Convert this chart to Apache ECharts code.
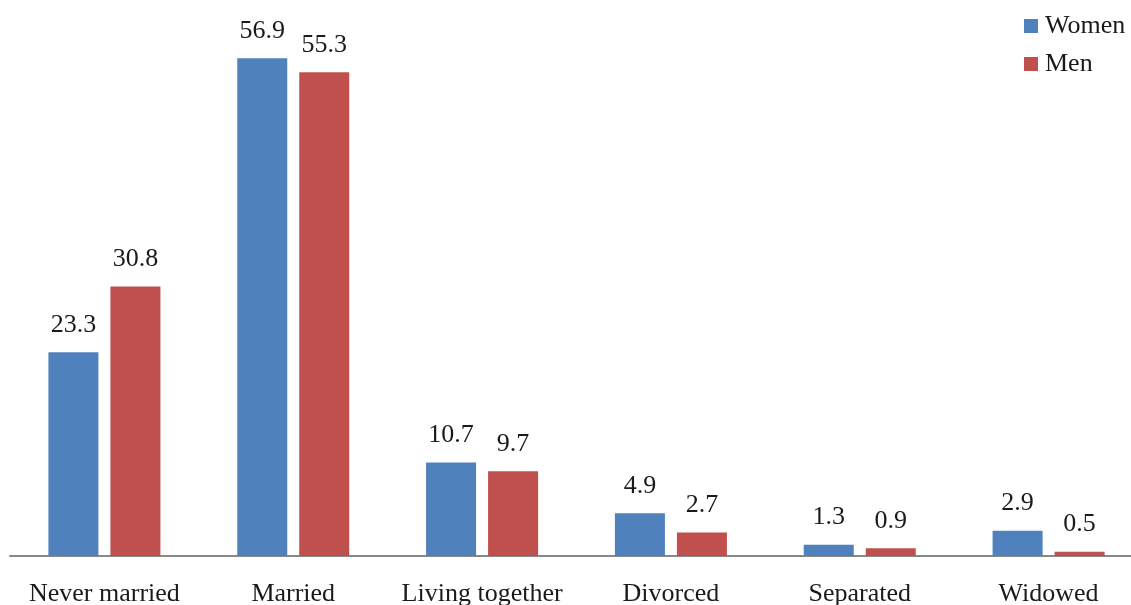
<!DOCTYPE html>
<html>
<head>
<meta charset="utf-8">
<script src="https://cdn.jsdelivr.net/npm/echarts@6/dist/echarts.min.js"></script>
<style>
  html, body { margin: 0; padding: 0; background: #fff; }
  #chart { width: 1131px; height: 605px; }
</style>
</head>
<body>
<div id="chart"></div>
<script>
  var categories = ['Never married', 'Married', 'Living together', 'Divorced', 'Separated', 'Widowed'];
  var women = [23.3, 56.9, 10.7, 4.9, 1.3, 2.9];
  var men = [30.8, 55.3, 9.7, 2.7, 0.9, 0.5];

  var font = "'Liberation Serif', 'Times New Roman', serif";
  var textColor = '#1a1a1a';

  var labelStyle = {
    show: true,
    position: 'top',
    distance: 14,
    fontFamily: font,
    fontSize: 26,
    color: textColor
  };

  var chart = echarts.init(document.getElementById('chart'));
  chart.setOption({
    animation: false,
    backgroundColor: '#fff',
    legend: {
      orient: 'vertical',
      left: 1019,
      top: 8,
      itemWidth: 14,
      itemHeight: 14,
      itemGap: 12,
      icon: 'rect',
      textStyle: { fontFamily: font, fontSize: 26, color: textColor, padding: [0, 0, 0, 2] },
      data: ['Women', 'Men']
    },
    // plot area runs a bit past the right edge, as in the source
    grid: { left: 10, width: 1133, top: 31, bottom: 49, outerBoundsMode: 'none' },
    xAxis: {
      type: 'category',
      data: categories,
      axisLine: { lineStyle: { color: '#888888', width: 2 } },
      axisTick: { show: false },
      axisLabel: { fontFamily: font, fontSize: 26, color: textColor, margin: 25, interval: 0 }
    },
    yAxis: {
      type: 'value',
      min: 0,
      max: 60,
      show: false,
      splitLine: { show: false }
    },
    series: [
      {
        name: 'Women',
        type: 'bar',
        data: women,
        barWidth: 50,
        barGap: '24%',
        itemStyle: { color: '#4F81BD' },
        label: labelStyle
      },
      {
        name: 'Men',
        type: 'bar',
        data: men,
        barWidth: 50,
        itemStyle: { color: '#C0504D' },
        label: labelStyle
      }
    ]
  });
</script>
</body>
</html>
